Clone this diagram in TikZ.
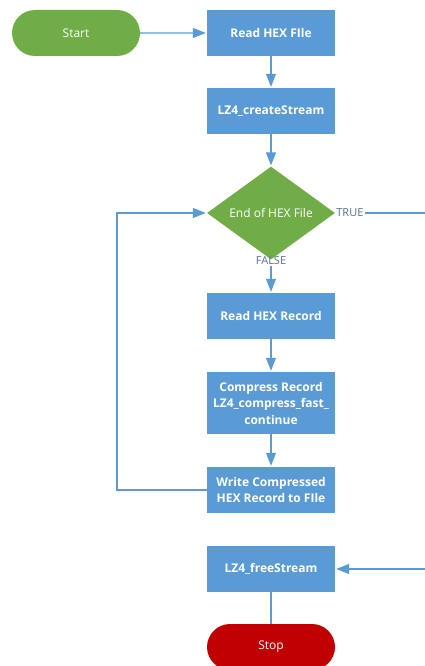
\documentclass[tikz,border=0pt]{standalone}
\usepackage{fontspec}
\setmainfont{Open Sans}
\usetikzlibrary{shapes.geometric,shapes.misc,arrows.meta}

\definecolor{procblue}{HTML}{5B9BD5}
\definecolor{termgreen}{HTML}{70AD47}
\definecolor{stopred}{HTML}{C00000}
\definecolor{labelgray}{HTML}{55718F}

\tikzset{
  proc/.style={rectangle, fill=procblue, text=white, font=\bfseries\fontsize{12}{16.5}\selectfont,
    minimum width=128pt, minimum height=46pt, align=center, inner sep=1pt},
  term/.style={rounded rectangle, text=white, font=\fontsize{12}{14}\selectfont,
    minimum width=128pt, minimum height=46pt, inner xsep=0pt},
  decide/.style={diamond, fill=termgreen, text=white, font=\fontsize{12}{14}\selectfont,
    minimum width=128pt, minimum height=90pt, inner sep=0pt},
  link/.style={draw=procblue, line width=1.1pt},
  arrow/.style={link, -{Triangle[length=13pt, width=10pt]}, shorten >=1pt},
  tflabel/.style={text=labelgray, font=\fontsize{11}{12}\selectfont, inner sep=1pt}
}

\begin{document}
\begin{tikzpicture}[x=1pt, y=-1pt]
    \useasboundingbox (0,0) rectangle (424,666);

    % Terminals
    \node[term, fill=termgreen] (start) at (76,33) {Start};
    \node[term, fill=stopred] (stop) at (271,647) {Stop};

    % Process steps
    \node[proc] (readfile) at (271,33) {Read HEX FIle};
    \node[proc] (create) at (271,111) {LZ4\_createStream};
    \node[decide] (endfile) at (271,213) {End of HEX File};
    \node[proc] (readrec) at (271,316) {Read HEX Record};
    \node[proc, minimum height=62pt] (compress) at (271,403) {Compress Record\\LZ4\_compress\_fast\_\\continue};
    \node[proc] (writerec) at (271,490) {Write Compressed\\HEX Record to FIle};
    \node[proc] (free) at (271,569) {LZ4\_freeStream};

    % Branch labels
    \node[tflabel, anchor=west] (truelbl) at (endfile.east) {TRUE};
    \node[tflabel] (falselbl) at (271,261) {FALSE};

    % Side corners
    \coordinate (loopbot) at (117,490);
    \coordinate (looptop) at (117,213);
    \coordinate (rtop) at (432,213);
    \coordinate (rbot) at (432,569);

    % Connectors
    \draw[arrow] (start) -- (readfile);
    \draw[arrow] (readfile) -- (create);
    \draw[arrow] (create) -- (endfile);
    \draw[arrow] (falselbl) -- (readrec);
    \draw[arrow] (readrec) -- (compress);
    \draw[arrow] (compress) -- (writerec);
    \draw[arrow] (writerec.west) -- (loopbot) -- (looptop) -- (endfile.west);
    \draw[arrow] (truelbl.east) -- (rtop) -- (rbot) -- (free.east);
    \draw[link] (free) -- (stop);

\end{tikzpicture}
\end{document}
